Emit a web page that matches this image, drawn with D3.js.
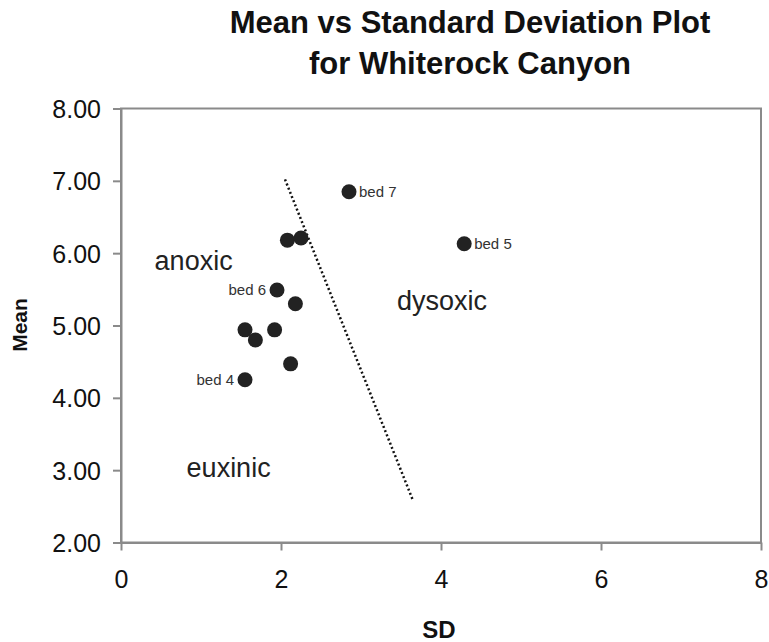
<!DOCTYPE html>
<html>
<head>
<meta charset="utf-8">
<script src="https://cdnjs.cloudflare.com/ajax/libs/d3/7.8.5/d3.min.js"></script>
<style>
	body { margin: 0; background: #fff; }
	svg { display: block; font-family: "Liberation Sans", Arial, sans-serif; }
	.frame { fill: none; stroke: #8a8a8a; stroke-width: 2; }
	.axis path, .axis line { stroke: #8a8a8a; stroke-width: 2; }
	.axis text { fill: #111; font-size: 25px; }
	.point { fill: #222; }
	.point-label { fill: #333; font-size: 15px; }
	.region { fill: #222; font-size: 27px; }
	.divider { fill: none; stroke: #111; stroke-width: 2.5; stroke-dasharray: 2, 2.5; }
</style>
</head>
<body>
<svg width="769" height="642"></svg>
<script>
// sample values
var sdValues   = [2.85, 4.29, 2.08, 2.25, 1.95, 2.18, 1.55, 1.68, 1.92, 2.12, 1.55];
var meanValues = [6.85, 6.13, 6.18, 6.21, 5.49, 5.30, 4.94, 4.80, 4.94, 4.47, 4.25];
var pointNames = ["bed 7", "bed 5", "", "", "bed 6", "", "", "", "", "", "bed 4"];
var labelSides = ["right", "right", "", "", "left", "", "", "", "", "", "left"];

var dividerSD   = [2.05, 3.65];
var dividerMean = [7.02, 2.58];

var regionNames = ["anoxic", "dysoxic", "euxinic"];
var regionSD    = [0.42, 3.45, 0.82];
var regionMean  = [5.77, 5.22, 2.91];

var xTicks = [0, 2, 4, 6, 8];
var yTicks = [2, 3, 4, 5, 6, 7, 8];
var titleLines = ["Mean vs Standard Deviation Plot", "for Whiterock Canyon"];

var margin = { left: 121, top: 108.5, right: 8, bottom: 99.5 };
var svg = d3.select("svg");
var width = 769 - margin.left - margin.right;
var height = 642 - margin.top - margin.bottom;

var x = d3.scaleLinear().domain([0, 8]).range([0, width]);
var y = d3.scaleLinear().domain([2, 8]).range([height, 0]);

var g = svg.append("g").attr("transform", "translate(" + margin.left + "," + margin.top + ")");

// title
svg.selectAll("text.title")
	.data(titleLines)
	.enter().append("text")
	.attr("class", "title")
	.attr("x", 470)
	.attr("y", function(d, i) { return 33 + i * 41; })
	.attr("text-anchor", "middle")
	.style("font-size", "31px")
	.style("font-weight", "bold")
	.attr("fill", "#111")
	.text(function(d) { return d; });

// frame
g.append("rect")
	.attr("class", "frame")
	.attr("width", width)
	.attr("height", height);

var xAxis = g.append("g")
	.attr("class", "axis")
	.attr("transform", "translate(0," + height + ")")
	.call(d3.axisBottom(x).tickValues(xTicks).tickSize(8).tickSizeOuter(0).tickPadding(20).tickFormat(d3.format("d")));

var yAxis = g.append("g")
	.attr("class", "axis")
	.call(d3.axisLeft(y).tickValues(yTicks).tickSize(8).tickSizeOuter(0).tickPadding(12).tickFormat(d3.format(".2f")));

svg.selectAll(".axis text").attr("font-family", null).attr("font-size", null);
xAxis.selectAll("text").attr("dy", "0.71em");
yAxis.selectAll("text").attr("dy", "0.36em");

// axis titles
svg.append("text")
	.attr("x", margin.left + x(4) - 2)
	.attr("y", 638)
	.attr("text-anchor", "middle")
	.style("font-size", "24px")
	.style("font-weight", "bold")
	.attr("fill", "#111")
	.text("SD");

svg.append("text")
	.attr("transform", "translate(27," + 325 + ") rotate(-90)")
	.attr("text-anchor", "middle")
	.style("font-size", "21px")
	.style("font-weight", "bold")
	.attr("fill", "#111")
	.text("Mean");

// dotted boundary line
g.append("line")
	.attr("class", "divider")
	.attr("x1", x(dividerSD[0]))
	.attr("y1", y(dividerMean[0]))
	.attr("x2", x(dividerSD[1]))
	.attr("y2", y(dividerMean[1]));

// region names
g.selectAll("text.region")
	.data(regionNames)
	.enter().append("text")
	.attr("class", "region")
	.attr("x", function(d, i) { return x(regionSD[i]); })
	.attr("y", function(d, i) { return y(regionMean[i]); })
	.text(function(d) { return d; });

// points
var points = sdValues.map(function(d, i) {
	return { sd: d, mean: meanValues[i], name: pointNames[i], side: labelSides[i] };
});

g.selectAll("circle.point")
	.data(points)
	.enter().append("circle")
	.attr("class", "point")
	.attr("cx", function(d) { return x(d.sd); })
	.attr("cy", function(d) { return y(d.mean); })
	.attr("r", 7.5);

g.selectAll("text.point-label")
	.data(points.filter(function(d) { return d.name; }))
	.enter().append("text")
	.attr("class", "point-label")
	.attr("x", function(d) { return x(d.sd) + (d.side == "right" ? 10 : -11); })
	.attr("y", function(d) { return y(d.mean); })
	.attr("dy", "0.35em")
	.attr("text-anchor", function(d) { return d.side == "right" ? "start" : "end"; })
	.text(function(d) { return d.name; });
</script>
</body>
</html>
